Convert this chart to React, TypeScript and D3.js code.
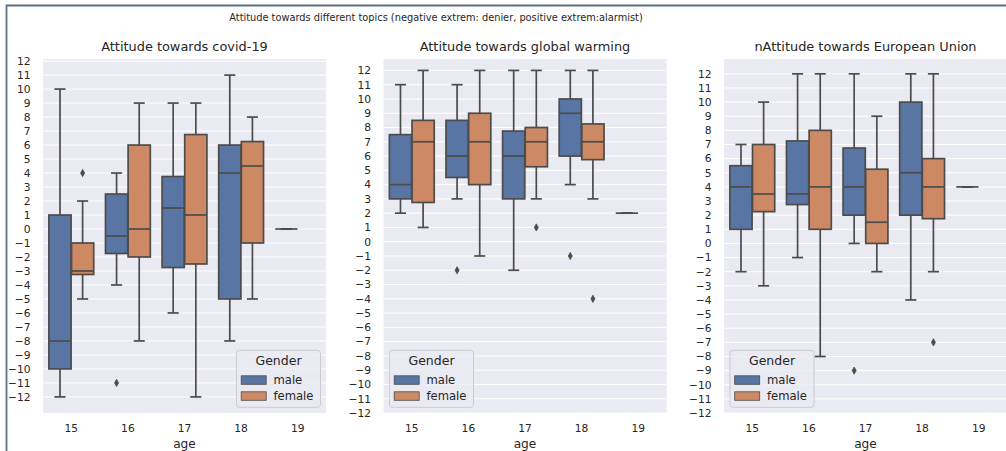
import React from 'react';
import * as d3 from 'd3';

// stats per box: [lower whisker, q1, median, q3, upper whisker]
type Box = [number, number, number, number, number] | null;

const ages = ['15', '16', '17', '18', '19'];
const genders = ['male', 'female'];
const genderColors = ['#5975a4', '#cc8963'];

const covidMale: Box[] = [
  [-12, -10, -8, 1, 10],
  [-4, -1.75, -0.5, 2.5, 4],
  [-6, -2.75, 1.5, 3.75, 9],
  [-8, -5, 4, 6, 11],
  [0, 0, 0, 0, 0],
];
const covidFemale: Box[] = [
  [-5, -3.25, -3, -1, 2],
  [-8, -2, 0, 6, 9],
  [-12, -2.5, 1, 6.75, 9],
  [-5, -1, 4.5, 6.25, 8],
  null,
];
const covidMaleOut = [[], [-11], [], [], []];
const covidFemaleOut = [[4], [], [], [], []];

const warmingMale: Box[] = [
  [2, 3, 4, 7.5, 11],
  [3, 4.5, 6, 8.5, 11],
  [-2, 3, 6, 7.75, 12],
  [4, 6, 9, 10, 12],
  [2, 2, 2, 2, 2],
];
const warmingFemale: Box[] = [
  [1, 2.75, 7, 8.5, 12],
  [-1, 4, 7, 9, 12],
  [3, 5.25, 7, 8, 12],
  [3, 5.75, 7, 8.25, 12],
  null,
];
const warmingMaleOut = [[], [-2], [], [-1], []];
const warmingFemaleOut = [[], [], [1], [-4], []];

const euMale: Box[] = [
  [-2, 1, 4, 5.5, 7],
  [-1, 2.75, 3.5, 7.25, 12],
  [0, 2, 4, 6.75, 12],
  [-4, 2, 5, 10, 12],
  [4, 4, 4, 4, 4],
];
const euFemale: Box[] = [
  [-3, 2.25, 3.5, 7, 10],
  [-8, 1, 4, 8, 12],
  [-2, 0, 1.5, 5.25, 9],
  [-2, 1.75, 4, 6, 12],
  null,
];
const euMaleOut = [[], [], [-9], [], []];
const euFemaleOut = [[], [], [], [-7], []];

const yTicks = d3.range(-12, 13);

const panels = [
  { title: 'Attitude towards covid-19', left: 43, boxes: [covidMale, covidFemale], outs: [covidMaleOut, covidFemaleOut], legend: 'right' },
  { title: 'Attitude towards global warming', left: 383.5, boxes: [warmingMale, warmingFemale], outs: [warmingMaleOut, warmingFemaleOut], legend: 'left' },
  { title: 'nAttitude towards European Union', left: 724, boxes: [euMale, euFemale], outs: [euMaleOut, euFemaleOut], legend: 'left' },
];

const FONT = 'DejaVu Sans, sans-serif';
const INK = '#262626';
const GRAY = '#4c4c4c';
const W = 283;
const TOP = 59;
const BOTTOM = 413;

function Panel({ p }: { p: any }) {
  const vals: number[] = [];
  p.boxes.forEach((s: Box[]) => s.forEach((b) => b && vals.push(b[0], b[4])));
  p.outs.forEach((s: number[][]) => s.forEach((o) => vals.push(...o)));
  const lo = d3.min(vals)!;
  const hi = d3.max(vals)!;
  const m = (hi - lo) * 0.05;
  const y = d3.scaleLinear().domain([Math.min(lo - m, -12), Math.max(hi + m, 12)]).range([BOTTOM, TOP]);
  const x = d3.scaleBand().domain(ages).range([p.left, p.left + W]);
  const bw = x.bandwidth();
  const boxW = (0.8 / genders.length) * 0.98 * bw;

  const legW = 84;
  const legH = 57;
  const legX = p.legend === 'right' ? p.left + W - 5.5 - legW : p.left + 6;
  const legY = BOTTOM - 5.7 - legH;

  return (
    <g>
      <rect x={p.left} y={TOP} width={W} height={BOTTOM - TOP} fill="#eaeaf2" />
      {yTicks.map((t) => (
        <line key={t} x1={p.left} x2={p.left + W} y1={y(t)} y2={y(t)} stroke="#fff" strokeWidth={1} />
      ))}
      {yTicks.map((t) => (
        <text key={'l' + t} x={p.left - 12.5} y={y(t)} dy="0.36em" textAnchor="end" fontSize={10.7} fill={INK} fontFamily={FONT}>
          {t < 0 ? '\u2212' + Math.abs(t) : t}
        </text>
      ))}
      {ages.map((a) => (
        <text key={a} x={x(a)! + bw / 2} y={432} textAnchor="middle" fontSize={10.7} fill={INK} fontFamily={FONT}>
          {a}
        </text>
      ))}
      <text x={p.left + W / 2} y={447.5} textAnchor="middle" fontSize={12.2} fill={INK} fontFamily={FONT}>age</text>
      <text x={p.left + W / 2} y={51} textAnchor="middle" fontSize={12.9} fill={INK} fontFamily={FONT}>{p.title}</text>
      {p.boxes.map((series: Box[], gi: number) =>
        series.map((b, i) => {
          if (!b) return null;
          const cx = x(ages[i])! + bw / 2 + (gi - 0.5) * 0.4 * bw;
          const [w0, q1, md, q3, w1] = b;
          const x0 = cx - boxW / 2;
          return (
            <g key={gi + '-' + i} stroke={GRAY} strokeWidth={1.7}>
              <line x1={cx} x2={cx} y1={y(q1)} y2={y(w0)} />
              <line x1={cx} x2={cx} y1={y(q3)} y2={y(w1)} />
              <line x1={cx - boxW / 4} x2={cx + boxW / 4} y1={y(w0)} y2={y(w0)} />
              <line x1={cx - boxW / 4} x2={cx + boxW / 4} y1={y(w1)} y2={y(w1)} />
              <rect x={x0} y={y(q3)} width={boxW} height={y(q1) - y(q3)} fill={genderColors[gi]} />
              <line x1={x0} x2={x0 + boxW} y1={y(md)} y2={y(md)} />
              {p.outs[gi][i].map((o: number, k: number) => (
                <path key={k} d={`M${cx},${y(o) - 3.6}L${cx + 2},${y(o)}L${cx},${y(o) + 3.6}L${cx - 2},${y(o)}Z`} fill={GRAY} strokeWidth={0.8} />
              ))}
            </g>
          );
        })
      )}
      <g fontFamily={FONT} fill={INK}>
        <rect x={legX} y={legY} width={legW} height={legH} rx={3} fill="#eaeaf2" fillOpacity={0.8} stroke="#cccccc" strokeWidth={1} />
        <text x={legX + legW / 2} y={legY + 14.5} textAnchor="middle" fontSize={12.5}>Gender</text>
        {genders.map((g, gi) => (
          <g key={g}>
            <rect x={legX + 4.7} y={legY + 25.5 + gi * 16} width={25} height={8.5} fill={genderColors[gi]} stroke={GRAY} strokeWidth={0.8} />
            <text x={legX + 37} y={legY + 33.5 + gi * 16} fontSize={11.6}>{g}</text>
          </g>
        ))}
      </g>
    </g>
  );
}

export default function App() {
  return (
    <svg width={1006} height={451} style={{ position: 'absolute', left: 0, top: 0, background: '#fff' }}>
      <path d="M1006,5.5H6.5V451" fill="none" stroke="#5f7181" strokeWidth={1.8} />
      <text x={436} y={21} textAnchor="middle" fontSize={9.8} fill={INK} fontFamily={FONT}>
        Attitude towards different topics (negative extrem: denier, positive extrem:alarmist)
      </text>
      {panels.map((p) => (
        <Panel key={p.title} p={p} />
      ))}
    </svg>
  );
}
